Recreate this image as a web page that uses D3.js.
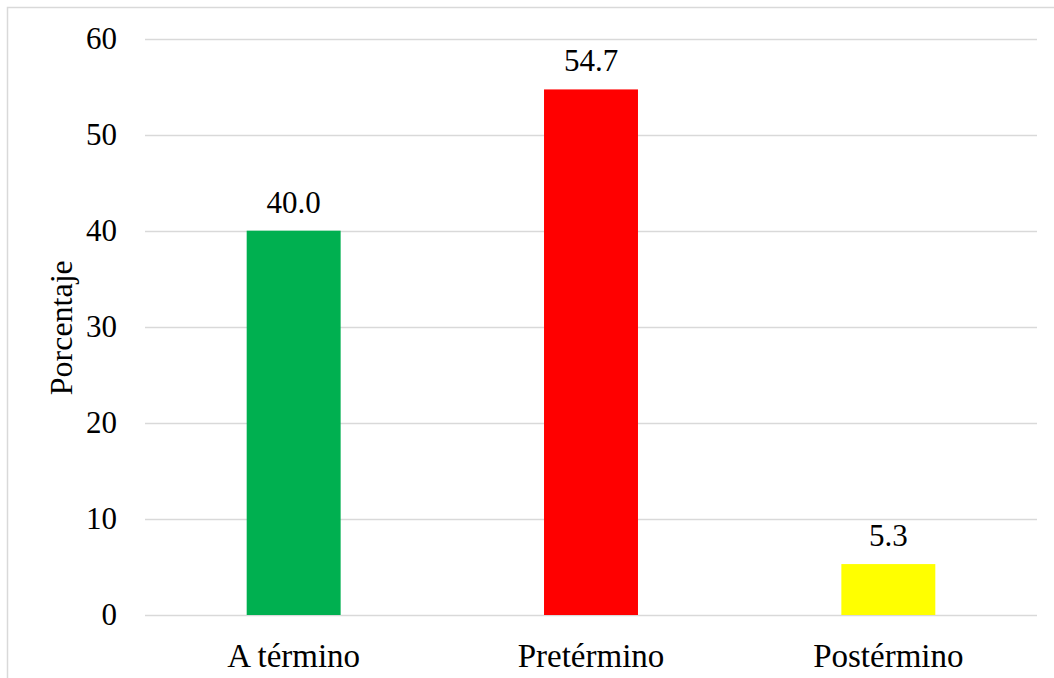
<!DOCTYPE html>
<html>
<head>
<meta charset="utf-8">
<script src="https://cdn.jsdelivr.net/npm/d3@7"></script>
<style>
  html, body { margin: 0; padding: 0; background: #fff; }
  svg { display: block; }
  text { font-family: "Liberation Serif", "Times New Roman", Times, "DejaVu Serif", serif; fill: #000; }
</style>
</head>
<body>
<svg id="chart" width="1054" height="678"></svg>
<script>
// Distribución por edad gestacional (%)
const categories = ["A término", "Pretérmino", "Postérmino"];
const values = [40.0, 54.7, 5.3];
const colors = ["#00b050", "#ff0000", "#ffff00"];
const yTicks = [0, 10, 20, 30, 40, 50, 60];
const yTitle = "Porcentaje";

const serif = "'Liberation Serif', 'Times New Roman', Times, 'DejaVu Serif', serif";
const svg = d3.select("#chart");

// Outer frame (left and top edges visible within the page)
svg.append("rect")
  .attr("x", 7.5).attr("y", 7.5)
  .attr("width", 1100).attr("height", 700)
  .attr("fill", "none")
  .attr("stroke", "#d9d9d9")
  .attr("stroke-width", 1.5);

const plot = { left: 145, right: 1037, top: 38.5, bottom: 615 };

const x = d3.scaleBand()
  .domain(categories)
  .range([plot.left, plot.right])
  .paddingInner(0.684)
  .paddingOuter(0.342);

const y = d3.scaleLinear()
  .domain([0, 60])
  .range([plot.bottom, plot.top]);

// Gridlines
svg.append("g")
  .selectAll("line")
  .data(yTicks)
  .join("line")
  .attr("x1", plot.left).attr("x2", plot.right)
  .attr("y1", d => Math.round(y(d)) + 0.5)
  .attr("y2", d => Math.round(y(d)) + 0.5)
  .attr("stroke", "#d9d9d9")
  .attr("stroke-width", 1.5);

// Y axis labels
const yAxis = d3.axisLeft(y).tickValues(yTicks).tickSize(0).tickPadding(28).tickFormat(d3.format("d"));
svg.append("g")
  .attr("transform", `translate(${plot.left},0)`)
  .call(yAxis)
  .call(g => g.select(".domain").remove())
  .attr("font-family", null)
  .attr("font-size", null)
  .selectAll("text")
  .style("font-family", serif)
  .style("font-size", "31px")
  .attr("fill", "#000");

// Y axis title
svg.append("text")
  .attr("transform", `translate(72,${(plot.top + plot.bottom) / 2 + 1}) rotate(-90)`)
  .attr("text-anchor", "middle")
  .style("font-family", serif)
  .style("font-size", "32px")
  .text(yTitle);

// Bars
svg.append("g")
  .selectAll("rect")
  .data(values)
  .join("rect")
  .attr("x", (d, i) => x(categories[i]))
  .attr("width", x.bandwidth())
  .attr("y", d => y(d))
  .attr("height", d => y(0) - y(d))
  .attr("fill", (d, i) => colors[i]);

// Value labels
svg.append("g")
  .selectAll("text")
  .data(values)
  .join("text")
  .attr("x", (d, i) => x(categories[i]) + x.bandwidth() / 2)
  .attr("y", d => y(d) - 18)
  .attr("text-anchor", "middle")
  .style("font-family", serif)
  .style("font-size", "31px")
  .text(d => d3.format(".1f")(d));

// Category labels
const xAxis = d3.axisBottom(x).tickSize(0).tickPadding(29);
svg.append("g")
  .attr("transform", `translate(0,${plot.bottom})`)
  .call(xAxis)
  .call(g => g.select(".domain").remove())
  .attr("font-family", null)
  .attr("font-size", null)
  .selectAll("text")
  .style("font-family", serif)
  .style("font-size", "33px")
  .attr("fill", "#000");
</script>
</body>
</html>
